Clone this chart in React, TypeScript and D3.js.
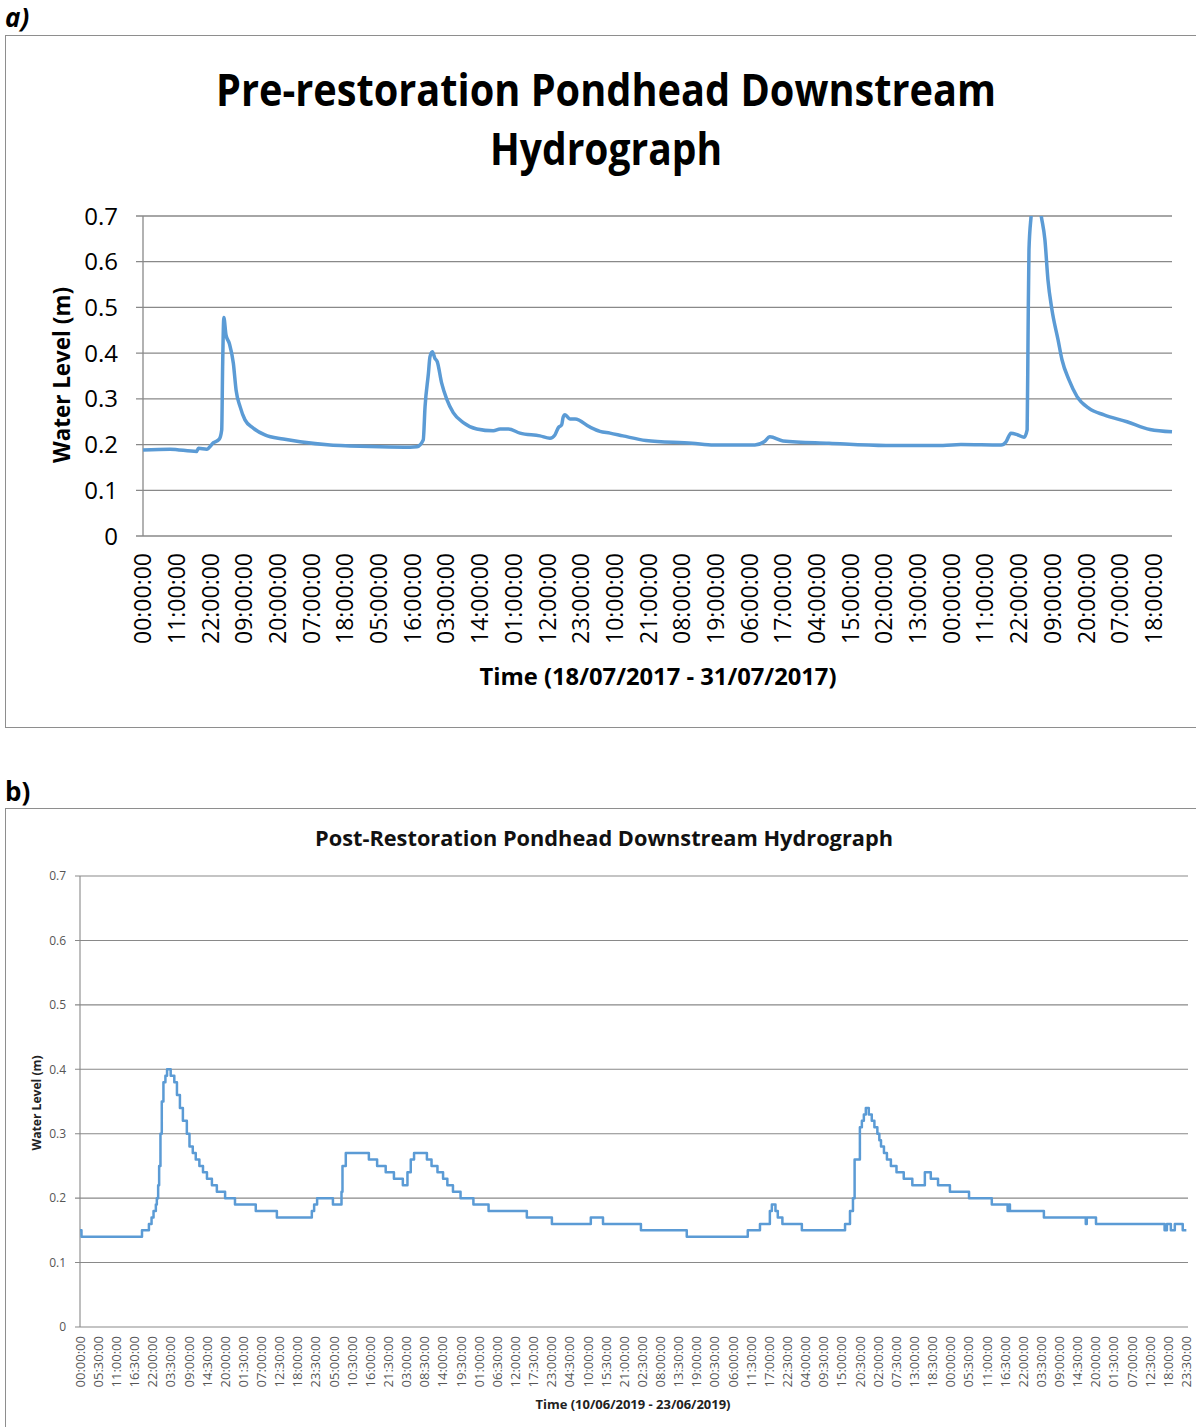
import React from 'react';
import * as d3 from 'd3';

// a) pre-restoration record, hours since 18/07/2017 00:00
const preHours = [0, 8.8, 17.5, 18.1, 20.8, 23.0, 24.9, 25.7, 26.0, 26.4, 27.1, 28.2, 29.5, 30.4, 31.7, 33.3, 36.0, 39.8, 45.8, 51.3,
  61.1, 67.6, 77.4, 87.2, 89.4, 91.5, 92.1, 93.2, 93.7, 94.5, 95.3, 96.1, 97.5, 99.2, 101.3, 104.6, 109.0, 114.4, 116.6, 119.3,
  123.1, 129.6, 132.9, 134.5, 135.6, 136.7, 137.2, 137.8, 139.4, 141.1, 146.0, 149.2, 152.5, 156.7, 164.2, 179.3, 186.4, 199.8,
  202.8, 204.7, 209.0, 224.0, 242.6, 261.2, 267.1, 280.2, 281.8, 283.4, 285.7, 287.7, 288.7, 289.0, 289.3, 290.0, 291.6, 293.3,
  294.5, 295.5, 296.8, 298.8, 300.1, 302.4, 305.0, 308.9, 313.8, 321.3, 328.8, 336];
const preLevels = [0.188, 0.19, 0.185, 0.192, 0.19, 0.204, 0.212, 0.232, 0.37, 0.478, 0.44, 0.421, 0.378, 0.319, 0.283, 0.254, 0.236, 0.221, 0.212, 0.206,
  0.199, 0.197, 0.195, 0.194, 0.195, 0.21, 0.283, 0.356, 0.392, 0.403, 0.389, 0.381, 0.335, 0.299, 0.27, 0.248, 0.234, 0.23, 0.234, 0.234,
  0.225, 0.219, 0.214, 0.221, 0.237, 0.243, 0.26, 0.265, 0.256, 0.256, 0.238, 0.229, 0.225, 0.219, 0.209, 0.203, 0.199, 0.199,
  0.206, 0.217, 0.208, 0.203, 0.198, 0.198, 0.2, 0.199, 0.206, 0.225, 0.221, 0.216, 0.232, 0.443, 0.626, 0.70, 0.78, 0.70,
  0.648, 0.56, 0.495, 0.429, 0.385, 0.341, 0.305, 0.279, 0.265, 0.25, 0.233, 0.228];
// category labels every 11 h
const preTickLabels = ['00:00:00', '11:00:00', '22:00:00', '09:00:00', '20:00:00', '07:00:00', '18:00:00', '05:00:00', '16:00:00',
  '03:00:00', '14:00:00', '01:00:00', '12:00:00', '23:00:00', '10:00:00', '21:00:00', '08:00:00', '19:00:00', '06:00:00',
  '17:00:00', '04:00:00', '15:00:00', '02:00:00', '13:00:00', '00:00:00', '11:00:00', '22:00:00', '09:00:00', '20:00:00',
  '07:00:00', '18:00:00'];

// b) post-restoration record, hours since 10/06/2019 00:00 (logger steps of 1 cm)
const postHours = [0, 0.45, 18.8, 20.9, 21.7, 22.3, 23.0, 23.3, 23.7, 24.0, 24.4, 24.8, 25.3, 25.9, 26.4, 27.5, 28.6, 29.4, 30.3, 31.2,
  32.4, 33.2, 34.2, 35.1, 36.2, 37.3, 38.5, 40.0, 41.5, 44.0, 47.0, 53.3, 59.7, 70.3, 71.0, 71.9, 76.7, 79.3, 79.6, 80.6,
  87.6, 90.1, 92.7, 95.2, 97.9, 99.3, 100.3, 101.3, 105.2, 106.6, 108.4, 110.1, 111.4, 113.1, 115.4, 119.3, 123.9, 135.5, 143.1, 154.9,
  158.6, 170.1, 184.0, 202.5, 206.2, 209.2, 209.8, 210.9, 211.6, 213.0, 218.9, 232.0, 233.5, 234.4, 234.9, 236.5, 237.1, 237.7, 238.3, 239.2,
  240.1, 240.9, 241.8, 242.4, 242.9, 243.8, 244.7, 245.9, 247.6, 249.8, 252.4, 256.2, 258.0, 260.2, 263.8, 269.6, 276.5, 281.3, 281.7, 282.0,
  292.3, 305.0, 305.3, 308.1, 328.9, 329.6, 330.8, 332.0, 334.4, 335.5];
const postLevels = [0.15, 0.14, 0.15, 0.16, 0.17, 0.18, 0.19, 0.20, 0.22, 0.25, 0.30, 0.35, 0.38, 0.39, 0.40, 0.39, 0.38, 0.36, 0.34, 0.32,
  0.30, 0.28, 0.27, 0.26, 0.25, 0.24, 0.23, 0.22, 0.21, 0.20, 0.19, 0.18, 0.17, 0.18, 0.19, 0.20, 0.19, 0.21, 0.25, 0.27,
  0.26, 0.25, 0.24, 0.23, 0.22, 0.24, 0.26, 0.27, 0.26, 0.25, 0.24, 0.23, 0.22, 0.21, 0.20, 0.19, 0.18, 0.17, 0.16, 0.17,
  0.16, 0.15, 0.14, 0.15, 0.16, 0.18, 0.19, 0.18, 0.17, 0.16, 0.15, 0.16, 0.18, 0.20, 0.26, 0.31, 0.32, 0.33, 0.34, 0.33,
  0.32, 0.31, 0.30, 0.29, 0.28, 0.27, 0.26, 0.25, 0.24, 0.23, 0.22, 0.24, 0.23, 0.22, 0.21, 0.20, 0.19, 0.18, 0.19, 0.18,
  0.17, 0.16, 0.17, 0.16, 0.15, 0.16, 0.15, 0.16, 0.15, 0.15];
// category labels every 5.5 h
const postTickLabels = ['00:00:00', '05:30:00', '11:00:00', '16:30:00', '22:00:00', '03:30:00', '09:00:00', '14:30:00', '20:00:00', '01:30:00',
  '07:00:00', '12:30:00', '18:00:00', '23:30:00', '05:00:00', '10:30:00', '16:00:00', '21:30:00', '03:00:00', '08:30:00',
  '14:00:00', '19:30:00', '01:00:00', '06:30:00', '12:00:00', '17:30:00', '23:00:00', '04:30:00', '10:00:00', '15:30:00',
  '21:00:00', '02:30:00', '08:00:00', '13:30:00', '19:00:00', '00:30:00', '06:00:00', '11:30:00', '17:00:00', '22:30:00',
  '04:00:00', '09:30:00', '15:00:00', '20:30:00', '02:00:00', '07:30:00', '13:00:00', '18:30:00', '00:00:00', '05:30:00',
  '11:00:00', '16:30:00', '22:00:00', '03:30:00', '09:00:00', '14:30:00', '20:00:00', '01:30:00', '07:00:00', '12:30:00',
  '18:00:00', '23:30:00'];

const yTicks = [0, 0.1, 0.2, 0.3, 0.4, 0.5, 0.6, 0.7];
const yTickLabels = ['0', '0.1', '0.2', '0.3', '0.4', '0.5', '0.6', '0.7'];

const BLUE = '#5b9bd5';
const GRID = '#898989';
const FRAME = '#8e8e8e';
const FONT = '"Open Sans", "Noto Sans", sans-serif';

const Hydrograph = ({ id, hours, levels, tickLabels, tickStep, box, look }) => {
  const x = d3.scaleLinear().domain([0, 336]).range([box.left, box.right]);
  const y = d3.scaleLinear().domain([0, 0.7]).range([box.bottom, box.top]);
  const line = d3.line<number>()
    .x((_, i) => x(hours[i]))
    .y(d => y(d))
    .curve(look.curve);

  return (
    <g fontFamily={FONT}>
      <defs>
        <clipPath id={id}>
          <rect x={box.left - 5} y={box.top} width={box.right - box.left + 10} height={box.bottom - box.top + 5} />
        </clipPath>
      </defs>
      {yTicks.map((t, i) => (
        <g key={t}>
          <line x1={box.left - look.tick} x2={box.right} y1={y(t)} y2={y(t)} stroke={GRID} strokeWidth={look.grid} />
          <text x={box.left - look.yGap} y={y(t)} dy="0.36em" textAnchor="end" fontSize={look.yFont} fill={look.labelColor}>
            {yTickLabels[i]}
          </text>
        </g>
      ))}
      <line x1={box.left} x2={box.left} y1={box.top} y2={box.bottom} stroke={GRID} strokeWidth={look.grid} />
      {tickLabels.map((lab, i) => (
        <text key={i} transform={`translate(${x(i * tickStep)},${box.bottom + look.xGap}) rotate(-90)`}
          dy="0.36em" textAnchor="end" fontSize={look.xFont} fill={look.labelColor}>
          {lab}
        </text>
      ))}
      <path d={line(levels) || ''} fill="none" stroke={BLUE} strokeWidth={look.width}
        strokeLinejoin="round" clipPath={`url(#${id})`} />
    </g>
  );
};

export default function App() {
  return (
    <svg width={1196} height={1427} style={{ position: 'absolute', left: 0, top: 0, background: '#fff' }}
      fontFamily={FONT}>
      <rect width={1196} height={1427} fill="#fff" />

      {/* panel a */}
      <text x={5} y={27} fontSize={26} fontWeight="bold" fontStyle="italic">a)</text>
      <rect x={5.5} y={35.5} width={1210} height={692} fill="none" stroke={FRAME} />
      <text x={606} y={106} textAnchor="middle" fontSize={44} fontWeight="bold" textLength={780}
        lengthAdjust="spacingAndGlyphs">Pre-restoration Pondhead Downstream</text>
      <text x={606} y={165} textAnchor="middle" fontSize={44} fontWeight="bold" textLength={232}
        lengthAdjust="spacingAndGlyphs">Hydrograph</text>
      <text transform="translate(62,375) rotate(-90)" dy="0.36em" textAnchor="middle" fontSize={23}
        fontWeight="bold" textLength={176} lengthAdjust="spacingAndGlyphs">Water Level (m)</text>
      <text x={658} y={685} textAnchor="middle" fontSize={24} fontWeight="bold" textLength={357}
        lengthAdjust="spacingAndGlyphs">Time (18/07/2017 - 31/07/2017)</text>
      <Hydrograph id="clip-pre" hours={preHours} levels={preLevels} tickLabels={preTickLabels} tickStep={11}
        box={{ left: 143, right: 1172, top: 216, bottom: 536 }}
        look={{ curve: d3.curveMonotoneX, width: 3.5, grid: 1.3, tick: 7, yGap: 25, yFont: 24, xGap: 17, xFont: 23, labelColor: '#000' }} />

      {/* panel b */}
      <text x={5} y={801} fontSize={26} fontWeight="bold">b)</text>
      <rect x={5.5} y={808.5} width={1210} height={700} fill="none" stroke={FRAME} />
      <text x={604} y={846} textAnchor="middle" fontSize={21} fontWeight="bold" textLength={578}
        lengthAdjust="spacingAndGlyphs" fill="#111">Post-Restoration Pondhead Downstream Hydrograph</text>
      <text transform="translate(37,1103) rotate(-90)" dy="0.36em" textAnchor="middle" fontSize={12}
        fontWeight="bold" textLength={95} lengthAdjust="spacingAndGlyphs" fill="#222">Water Level (m)</text>
      <text x={633} y={1409} textAnchor="middle" fontSize={12} fontWeight="bold" textLength={195}
        lengthAdjust="spacingAndGlyphs" fill="#222">Time (10/06/2019 - 23/06/2019)</text>
      <Hydrograph id="clip-post" hours={postHours} levels={postLevels} tickLabels={postTickLabels} tickStep={5.5}
        box={{ left: 80, right: 1188, top: 876, bottom: 1327 }}
        look={{ curve: d3.curveStepAfter, width: 2.5, grid: 1.1, tick: 5, yGap: 14, yFont: 12, xGap: 9, xFont: 13, labelColor: '#555' }} />
    </svg>
  );
}
